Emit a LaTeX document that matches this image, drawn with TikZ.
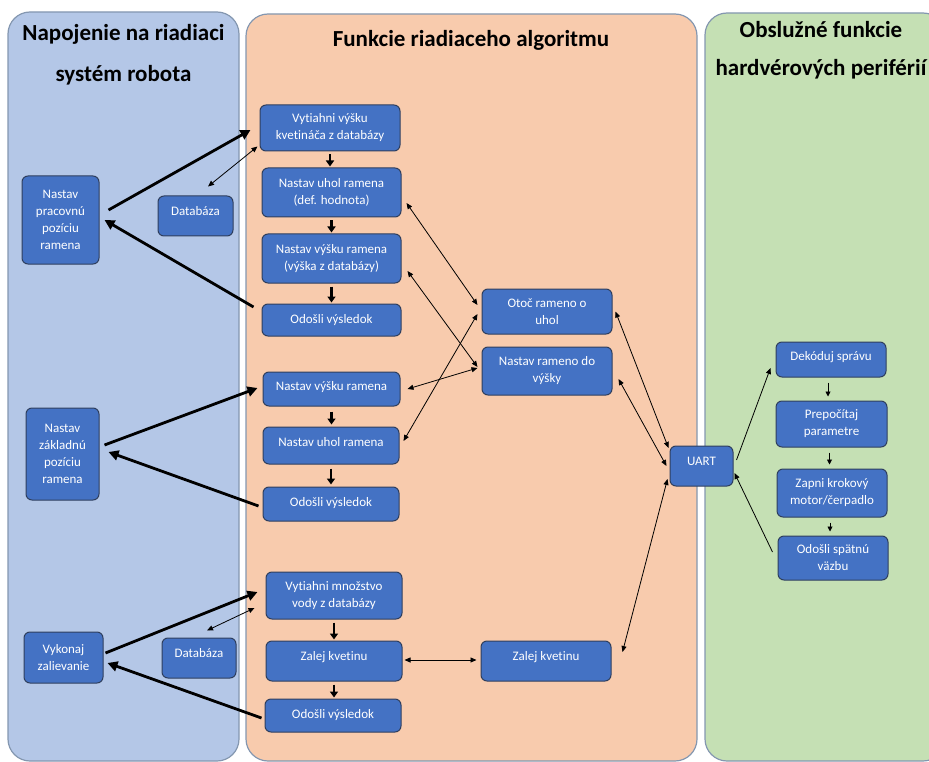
\documentclass[tikz,border=0pt]{standalone}
\usepackage{fontspec}
\setmainfont{Carlito}[Ligatures=NoCommon]
\usetikzlibrary{arrows.meta,calc}
\definecolor{pblue}{HTML}{B4C7E7}
\definecolor{porange}{HTML}{F8CBAD}
\definecolor{pgreen}{HTML}{C5E0B4}
\definecolor{pedge}{HTML}{8497B0}
\definecolor{bfill}{HTML}{4472C4}
\definecolor{bedge}{HTML}{2F3F5E}
\begin{document}
\begin{tikzpicture}[x=1pt,y=-1pt,
  panel/.style={draw=pedge, line width=1.2pt, rounded corners=22pt},
  ttl/.style={font=\bfseries\fontsize{23}{28}\selectfont, anchor=base, inner sep=0pt},
  bx/.style={draw=bedge, fill=bfill, line width=1pt, rounded corners=6pt, text=white,
    align=center, font=\fontsize{13}{17}\selectfont, inner sep=1pt},
  lift/.style={text height=9pt, text depth=#1},
  thk/.style={line width=2.8pt, -{Triangle[length=10pt,width=10pt]}},
  thn/.style={line width=0.8pt, {Triangle[length=6pt,width=5pt]}-{Triangle[length=6pt,width=5pt]}},
  thnone/.style={line width=0.8pt, -{Triangle[length=6pt,width=5pt]}},
  dwn/.style={line width=2.4pt, -{Triangle[length=6pt,width=8pt]}},
  gdwn/.style={line width=0.9pt, -{Triangle[length=5pt,width=5pt]}}
]
\path[use as bounding box] (0,0) rectangle (929,762);
\clip (0,0) rectangle (929,762);
% panels
\path[panel, fill=pblue] (8,12) rectangle (239,761);
\path[panel, fill=porange] (246,14) rectangle (697,761);
\path[panel, fill=pgreen] (705,13) rectangle (945,761);
% titles
\node[ttl] (t1a) at (123.5,41) {Napojenie na riadiaci};
\node[ttl] (t1b) at (123.5,82) {systém robota};
\node[ttl] (t2) at (471,47) {Funkcie riadiaceho algoritmu};
\node[ttl] (t3a) at (821,38) {Obslužné funkcie};
\node[ttl] (t3b) at (821,76) {hardvérových periférií};
% group 1
\node[bx, minimum width=140pt, minimum height=46pt] (v1) at (330,128) {Vytiahni výšku\\kvetináča z databázy};
\node[bx, minimum width=139pt, minimum height=49pt] (u1) at (331.5,192.5) {Nastav uhol ramena\\(def. hodnota)};
\node[bx, minimum width=139pt, minimum height=49pt] (h1) at (331.5,258.5) {Nastav výšku ramena\\(výška z databázy)};
\node[bx, minimum width=139pt, minimum height=32pt, lift=3pt] (o1) at (331.5,320) {Odošli výsledok};
\node[bx, minimum width=77pt, minimum height=88pt] (p1) at (60.5,220) {Nastav\\pracovnú\\pozíciu\\ramena};
\node[bx, minimum width=75pt, minimum height=40pt, lift=11pt] (d1) at (195.5,216) {Databáza};
% middle
\node[bx, minimum width=130pt, minimum height=45pt] (ot) at (547,311.5) {Otoč rameno o\\uhol};
\node[bx, minimum width=130pt, minimum height=48pt] (nr) at (547,371) {Nastav rameno do\\výšky};
% group 2
\node[bx, minimum width=137pt, minimum height=34pt, lift=7pt] (h2) at (331.5,389) {Nastav výšku ramena};
\node[bx, minimum width=136pt, minimum height=37pt, lift=7pt] (u2) at (331,445.5) {Nastav uhol ramena};
\node[bx, minimum width=136pt, minimum height=34pt, lift=4pt] (o2) at (331,504) {Odošli výsledok};
\node[bx, minimum width=73pt, minimum height=92pt] (p2) at (62.5,454) {Nastav\\základnú\\pozíciu\\ramena};
% right
\node[bx, minimum width=63pt, minimum height=40pt, lift=10pt] (ua) at (701.5,466) {UART};
\node[bx, minimum width=110pt, minimum height=35pt, lift=7pt] (dk) at (831,359.5) {Dekóduj správu};
\node[bx, minimum width=111pt, minimum height=46pt] (pp) at (831.5,424) {Prepočítaj\\parametre};
\node[bx, minimum width=110pt, minimum height=48pt] (zk) at (832,493) {Zapni krokový\\motor/čerpadlo};
\node[bx, minimum width=110pt, minimum height=44pt] (os) at (833,558) {Odošli spätnú\\väzbu};
% group 3
\node[bx, minimum width=136pt, minimum height=47pt] (v3) at (334,595.5) {Vytiahni množstvo\\vody z databázy};
\node[bx, minimum width=136pt, minimum height=40pt, lift=11pt] (z1) at (334,661) {Zalej kvetinu};
\node[bx, minimum width=136pt, minimum height=33pt, lift=3pt] (o3) at (333,715.5) {Odošli výsledok};
\node[bx, minimum width=79pt, minimum height=51pt] (p3) at (63.5,657.5) {Vykonaj\\zalievanie};
\node[bx, minimum width=74pt, minimum height=40pt, lift=10pt] (d3) at (199,658) {Databáza};
\node[bx, minimum width=130pt, minimum height=40pt, lift=10pt] (z2) at (546,661) {Zalej kvetinu};
% connectors group 1
\draw[thk] ([shift={(9,-10)}]p1.east) -- ([shift={(-9,2)}]v1.west);
\draw[thk] ([shift={(-8,-13)}]o1.west) -- ([shift={(5,0)}]p1.east);
\draw[thn] ([shift={(12.5,-9)}]d1.north) -- ([shift={(-2,-5)}]v1.south west);
\draw[dwn] ($(v1.south)+(0,3)$) -- ($(v1.south |- u1.north)+(0,-1)$);
\draw[dwn] ($(u1.south)+(0,3)$) -- ($(u1.south |- h1.north)+(0,-1)$);
\draw[dwn] ($(h1.south)+(0,3)$) -- ($(h1.south |- o1.north)+(0,-1)$);
% middle connectors
\draw[thn] ([shift={(5,10.5)}]u1.east) -- ([shift={(-4,-6.5)}]ot.west);
\draw[thn] ([shift={(6,12.5)}]h1.east) -- ([shift={(-4,-4)}]nr.west);
\draw[thn] ([shift={(7,0)}]h2.east) -- ([shift={(-4,-3)}]nr.west);
\draw[thn] ([shift={(4,-4.5)}]u2.east) -- ([shift={(-4,2.5)}]ot.west);
% group 2
\draw[thk] ([shift={(5,-9)}]p2.east) -- ([shift={(-5,-1)}]h2.west);
\draw[thk] ([shift={(-4,2)}]o2.west) -- ([shift={(9,-2)}]p2.east);
\draw[dwn] ($(h2.south)+(0,5)$) -- ($(h2.south |- u2.north)+(0,-2)$);
\draw[dwn] ($(u2.south)+(0,4)$) -- ($(u2.south |- o2.north)+(0,-2)$);
% right connectors
\draw[thn] ([shift={(3,0)}]ot.east) -- ([shift={(-1,-18)}]ua.west);
\draw[thn] ([shift={(6,8)}]nr.east) -- ([shift={(-3,0)}]ua.west);
\draw[thn] ([shift={(11,-9)}]z2.east) -- ([shift={(-2,13)}]ua.west);
\draw[thnone] ([shift={(3,-6)}]ua.east) -- ([shift={(-5,8.5)}]dk.west);
\draw[thnone] ([shift={(-5,-6)}]os.west) -- ([shift={(1,7)}]ua.east);
\draw[gdwn] ($(dk.south)+(-3,5)$) -- ($(dk.south |- pp.north)+(-3,-4)$);
\draw[gdwn] ($(pp.south)+(-2,5)$) -- ($(pp.south |- zk.north)+(-2,-4)$);
\draw[gdwn] ($(zk.south)+(-2,5)$) -- ($(zk.south |- os.north)+(-2,-4)$);
% group 3
\draw[thk] ([shift={(2,-4.5)}]p3.east) -- ([shift={(-8,-3.5)}]v3.west);
\draw[thk] ([shift={(-3,2.5)}]o3.west) -- ([shift={(4,5.5)}]p3.east);
\draw[thn] ([shift={(8,-7)}]d3.north) -- ([shift={(-11,12.5)}]v3.west);
\draw[thn] ([shift={(2,-1)}]z1.east) -- ([shift={(-4,-1)}]z2.west);
\draw[dwn] ($(v3.south)+(0,3)$) -- ($(v3.south |- z1.north)+(0,-1)$);
\draw[dwn] ($(z1.south)+(0,3)$) -- ($(z1.south |- o3.north)+(0,-1)$);
\end{tikzpicture}
\end{document}
